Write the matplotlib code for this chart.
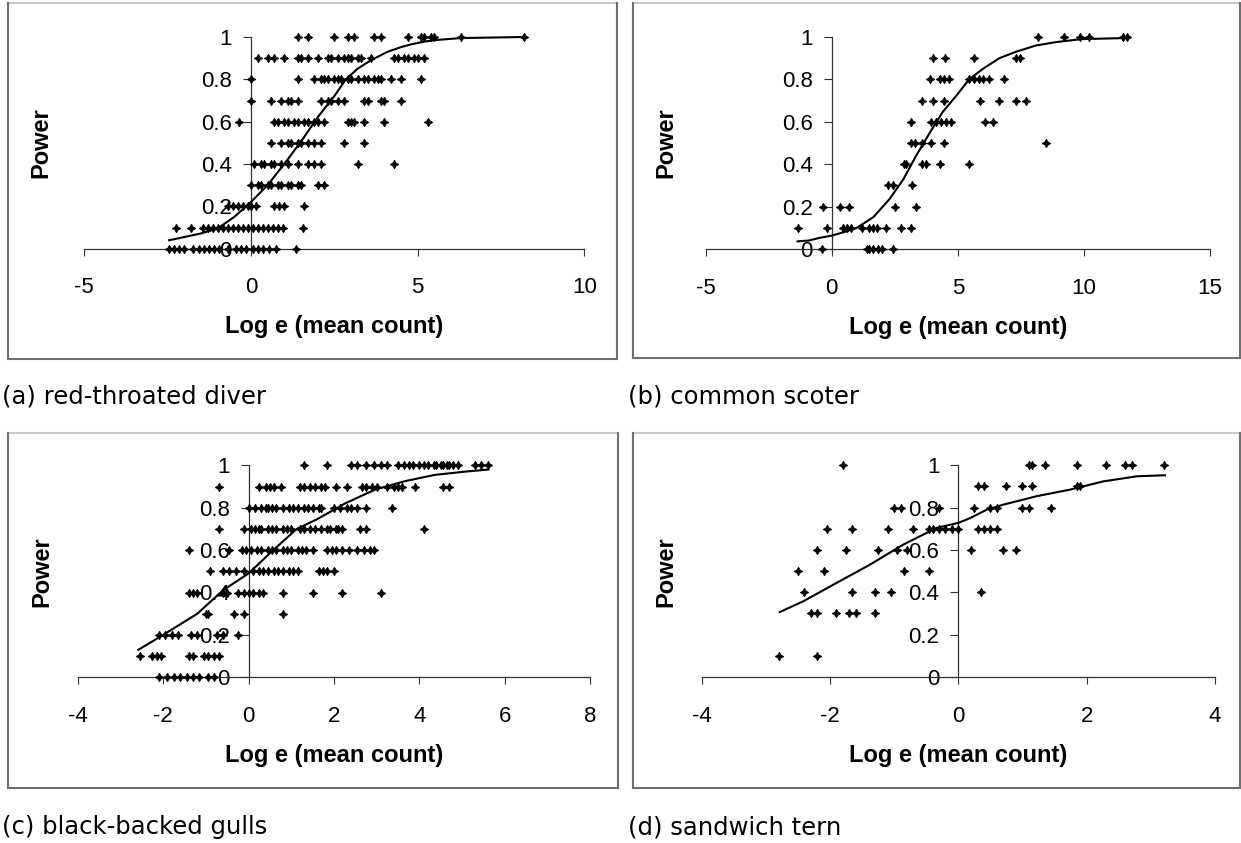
import matplotlib
matplotlib.use('Agg')
import matplotlib.pyplot as plt
from matplotlib.lines import Line2D

plt.rcParams['font.family'] = 'Liberation Sans'
plt.rcParams['axes.unicode_minus'] = False

# power levels of the point rows (top to bottom)
power_levels = [1.0, 0.9, 0.8, 0.7, 0.6, 0.5, 0.4, 0.3, 0.2, 0.1, 0.0]
y_ticks = [0, 0.2, 0.4, 0.6, 0.8, 1]
y_ticklabels = ['0', '0.2', '0.4', '0.6', '0.8', '1']

# (a) red-throated diver - log mean count for each power row
diver_x = [
    [1.4, 1.7, 2.5, 2.9, 3.1, 3.7, 3.9, 4.7, 5.1, 5.2, 5.4, 5.5, 6.3, 8.2],
    [0.2, 0.5, 0.7, 1.0, 1.4, 1.5, 1.7, 2.0, 2.3, 2.4, 2.6, 2.8, 2.9, 3.0, 3.2, 3.3, 3.6, 4.3, 4.4, 4.6, 4.7, 4.9, 5.0, 5.2],
    [0.0, 1.4, 1.9, 2.1, 2.2, 2.3, 2.5, 2.6, 2.7, 2.9, 3.0, 3.2, 3.4, 3.5, 3.7, 3.8, 3.9, 4.2, 4.5, 5.1],
    [0.0, 0.6, 0.9, 1.1, 1.2, 1.4, 2.1, 2.3, 2.4, 2.6, 2.8, 3.4, 3.5, 3.9, 4.0, 4.5],
    [-0.35, 0.7, 0.8, 1.0, 1.1, 1.3, 1.4, 1.6, 1.7, 1.9, 2.0, 2.2, 2.9, 3.0, 3.1, 3.4, 4.0, 5.3],
    [0.6, 0.9, 1.1, 1.2, 1.4, 1.5, 1.7, 1.9, 2.1, 2.8, 3.4],
    [0.1, 0.3, 0.4, 0.6, 0.7, 0.9, 1.1, 1.4, 1.7, 1.9, 2.1, 3.2, 4.3],
    [0.0, 0.2, 0.3, 0.5, 0.6, 0.8, 0.9, 1.1, 1.2, 1.4, 1.5, 2.0, 2.2],
    [-0.7, -0.55, -0.4, -0.25, -0.1, 0.0, 0.15, 0.7, 0.85, 1.0, 1.6],
    [-2.25, -1.8, -1.45, -1.3, -1.15, -1.0, -0.85, -0.7, -0.55, -0.4, -0.25, -0.1, 0.05, 0.2, 0.35, 0.5, 0.65, 0.8, 0.95, 1.55],
    [-2.45, -2.3, -2.15, -2.0, -1.75, -1.55, -1.4, -1.25, -1.1, -0.95, -0.7, -0.45, -0.3, -0.15, 0.05, 0.2, 0.35, 0.55, 0.75, 1.35],
]
diver_fit_x = [-2.45, -2.0, -1.5, -1.0, -0.5, 0.0, 0.5, 1.0, 1.5, 2.0, 2.5, 2.85, 3.2, 3.6, 4.1, 4.5, 4.8, 5.2, 5.5, 6.3, 8.2]
diver_fit_y = [0.04, 0.055, 0.072, 0.095, 0.15, 0.22, 0.30, 0.40, 0.505, 0.62, 0.72, 0.80, 0.85, 0.89, 0.93, 0.952, 0.965, 0.978, 0.985, 0.995, 1.0]

# (b) common scoter
scoter_x = [
    [8.2, 9.2, 9.85, 10.2, 11.55, 11.7],
    [4.0, 4.5, 5.65, 7.3, 7.45],
    [3.9, 4.3, 4.45, 4.65, 5.45, 5.65, 5.85, 6.0, 6.25, 6.85],
    [3.6, 4.0, 4.45, 5.9, 6.65, 7.3, 7.7],
    [3.15, 3.95, 4.15, 4.35, 4.55, 4.75, 6.1, 6.4],
    [3.15, 3.3, 3.6, 3.95, 4.45, 8.5],
    [2.85, 2.95, 3.6, 3.75, 4.3, 5.45],
    [2.25, 2.45, 3.2],
    [-0.35, 0.35, 0.7, 2.5, 3.35],
    [-1.35, -0.2, 0.45, 0.6, 0.75, 1.2, 1.5, 1.65, 1.8, 2.15, 2.75, 3.15],
    [-0.4, 1.4, 1.5, 1.65, 1.85, 2.0, 2.45],
]
scoter_fit_x = [-1.35, -0.9, -0.5, 0.0, 0.5, 1.0, 1.65, 2.3, 2.85, 3.35, 3.9, 4.4, 4.95, 5.45, 6.0, 6.65, 7.3, 8.1, 8.9, 9.9, 11.65]
scoter_fit_y = [0.036, 0.04, 0.052, 0.063, 0.08, 0.10, 0.15, 0.236, 0.33, 0.44, 0.55, 0.646, 0.724, 0.80, 0.85, 0.90, 0.93, 0.96, 0.976, 0.99, 0.995]

# (c) black-backed gulls
gulls_x = [
    [1.3, 1.85, 2.4, 2.55, 2.75, 2.95, 3.1, 3.25, 3.5, 3.65, 3.75, 3.85, 4.0, 4.1, 4.2, 4.35, 4.4, 4.5, 4.55, 4.65, 4.7, 4.8, 4.9, 5.3, 5.45, 5.6],
    [-0.7, 0.25, 0.4, 0.5, 0.6, 0.75, 1.2, 1.3, 1.45, 1.55, 1.7, 1.8, 2.05, 2.3, 2.65, 2.75, 2.9, 3.0, 3.25, 3.4, 3.5, 3.6, 3.9, 4.55, 4.7],
    [0.0, 0.15, 0.3, 0.4, 0.45, 0.55, 0.65, 0.8, 0.95, 1.05, 1.15, 1.3, 1.4, 1.5, 1.65, 1.7, 2.0, 2.15, 2.3, 2.4, 2.55, 2.75, 3.35],
    [-0.7, -0.1, 0.05, 0.15, 0.25, 0.3, 0.45, 0.55, 0.65, 0.8, 0.9, 1.0, 1.2, 1.3, 1.45, 1.55, 1.7, 1.85, 1.9, 2.05, 2.1, 2.2, 2.6, 2.75, 4.1],
    [-1.4, -0.45, -0.15, -0.05, 0.05, 0.2, 0.3, 0.45, 0.55, 0.65, 0.8, 0.9, 1.0, 1.15, 1.25, 1.35, 1.5, 1.85, 1.95, 2.05, 2.2, 2.35, 2.55, 2.7, 2.85, 2.95],
    [-0.9, -0.6, -0.45, -0.3, -0.1, 0.1, 0.25, 0.35, 0.45, 0.6, 0.7, 0.8, 0.95, 1.05, 1.15, 1.65, 1.75, 1.85, 2.0],
    [-1.4, -1.3, -1.2, -0.6, -0.5, -0.25, -0.1, 0.0, 0.1, 0.25, 0.35, 0.8, 1.5, 2.2, 3.1],
    [-1.0, -0.95, -0.35, -0.1, 0.8],
    [-2.1, -1.95, -1.8, -1.65, -1.35, -1.2, -0.75, -0.6, -0.25],
    [-2.55, -2.25, -2.15, -2.05, -1.4, -1.3, -1.05, -0.95, -0.8, -0.7],
    [-2.1, -1.9, -1.75, -1.6, -1.45, -1.3, -1.15, -0.95, -0.8],
]
gulls_fit_x = [-2.58, -2.0, -1.2, -0.6, 0.0, 0.58, 1.13, 1.6, 2.26, 2.96, 3.66, 4.37, 5.07, 5.62]
gulls_fit_y = [0.13, 0.20, 0.30, 0.41, 0.49, 0.60, 0.70, 0.745, 0.82, 0.885, 0.925, 0.955, 0.97, 0.98]

# (d) sandwich tern
tern_x = [
    [-1.8, 1.1, 1.15, 1.35, 1.85, 2.3, 2.6, 2.7, 3.2],
    [0.3, 0.4, 0.75, 1.0, 1.15, 1.85, 1.9],
    [-1.0, -0.9, -0.3, 0.25, 0.5, 0.6, 1.0, 1.1, 1.45],
    [-2.05, -1.65, -1.1, -0.7, -0.45, -0.4, -0.3, -0.2, -0.1, 0.0, 0.3, 0.4, 0.5, 0.6],
    [-2.2, -1.75, -1.25, -0.95, -0.8, 0.2, 0.7, 0.9],
    [-2.5, -2.1, -0.85, -0.45],
    [-2.4, -1.65, -1.3, -1.05, 0.35],
    [-2.3, -2.2, -1.9, -1.7, -1.6, -1.3],
    [],
    [-2.8, -2.2],
    [],
]
tern_fit_x = [-2.78, -2.42, -1.9, -1.38, -0.86, -0.34, 0.0, 0.18, 0.44, 0.7, 1.22, 1.74, 2.26, 2.78, 3.22]
tern_fit_y = [0.307, 0.357, 0.444, 0.53, 0.625, 0.704, 0.728, 0.75, 0.79, 0.814, 0.854, 0.885, 0.924, 0.948, 0.953]

W, H = 1241, 843
fig = plt.figure(figsize=(W / 100, H / 100), dpi=100)
fig.patch.set_facecolor('white')

panels = [
    # rows, fit x, fit y, x ticks, axes px (left, right, top, bottom), power label x, caption, caption x/y, frame
    (diver_x, diver_fit_x, diver_fit_y, [-5, 0, 5, 10], (84.2, 584.2, 37, 248.7), 41,
     '(a) red-throated diver', 2, 397, (8, 617, 3, 359)),
    (scoter_x, scoter_fit_x, scoter_fit_y, [-5, 0, 5, 10, 15], (705.5, 1210, 37, 249), 666,
     '(b) common scoter', 628, 397, (633, 1240, 3, 358)),
    (gulls_x, gulls_fit_x, gulls_fit_y, [-4, -2, 0, 2, 4, 6, 8], (77.8, 590, 465.3, 677.3), 41.5,
     '(c) black-backed gulls', 2, 827, (8, 618, 433, 788)),
    (tern_x, tern_fit_x, tern_fit_y, [-4, -2, 0, 2, 4], (701.6, 1215, 465.3, 677), 666,
     '(d) sandwich tern', 628, 827, (633, 1240, 433, 788)),
]

for rows, fx, fy, xt, (l, r, t, b), plx, cap, capx, capy, box in panels:
    ax = fig.add_axes([l / W, 1 - b / H, (r - l) / W, (b - t) / H])
    ax.patch.set_alpha(0)

    for pw, xs in zip(power_levels, rows):
        ax.plot(xs, [pw] * len(xs), linestyle='none', marker=(4, 1, 0), ms=6,
                color='black', mew=0.7, clip_on=False, zorder=3)
    ax.plot(fx, fy, color='black', lw=1.5, zorder=3, clip_on=False,
            solid_joinstyle='round')

    ax.set_xlim(xt[0], xt[-1])
    ax.set_ylim(0, 1)
    ax.spines['left'].set_position(('data', 0))
    ax.spines['bottom'].set_position(('data', 0))
    ax.spines['top'].set_visible(False)
    ax.spines['right'].set_visible(False)
    for s in ('left', 'bottom'):
        ax.spines[s].set_color('#333333')
        ax.spines[s].set_linewidth(0.9)

    ax.set_xticks(xt)
    ax.set_xticklabels([str(v) for v in xt])
    ax.set_yticks(y_ticks)
    ax.set_yticklabels(y_ticklabels)
    ax.tick_params(axis='x', direction='out', length=5.2, width=0.8, pad=15.5, labelsize=16,
                   colors='#333333', labelcolor='black')
    ax.tick_params(axis='y', direction='out', length=5.6, width=0.8, pad=8, labelsize=16,
                   colors='#333333', labelcolor='black')

    ax.set_xlabel('Log e (mean count)', fontsize=17, fontweight='bold')
    ax.xaxis.label.set_verticalalignment('baseline')
    ax.xaxis.set_label_coords(0.5, -84.6 / (b - t))

    ax.set_ylabel('Power', fontsize=17, fontweight='bold')
    ax.yaxis.label.set_verticalalignment('center')
    ax.yaxis.set_label_coords((plx - l) / (r - l), 0.5)

    fig.text(capx / W, 1 - capy / H, cap, ha='left', va='center',
             family='DejaVu Sans', fontsize=17.5)

    # frame round each chart
    x0, x1, y0, y1 = box
    fx0, fx1, fy0, fy1 = x0 / W, x1 / W, 1 - y0 / H, 1 - y1 / H
    fig.add_artist(Line2D([fx0, fx1], [fy0, fy0], color='#c8c8c8', lw=1.5))
    fig.add_artist(Line2D([fx0, fx0], [fy0, fy1], color='#707070', lw=1.5))
    fig.add_artist(Line2D([fx0, fx1], [fy1, fy1], color='#707070', lw=1.5))
    fig.add_artist(Line2D([fx1, fx1], [fy0, fy1], color='#707070', lw=1.5))

fig.savefig('out.png', dpi=100)
